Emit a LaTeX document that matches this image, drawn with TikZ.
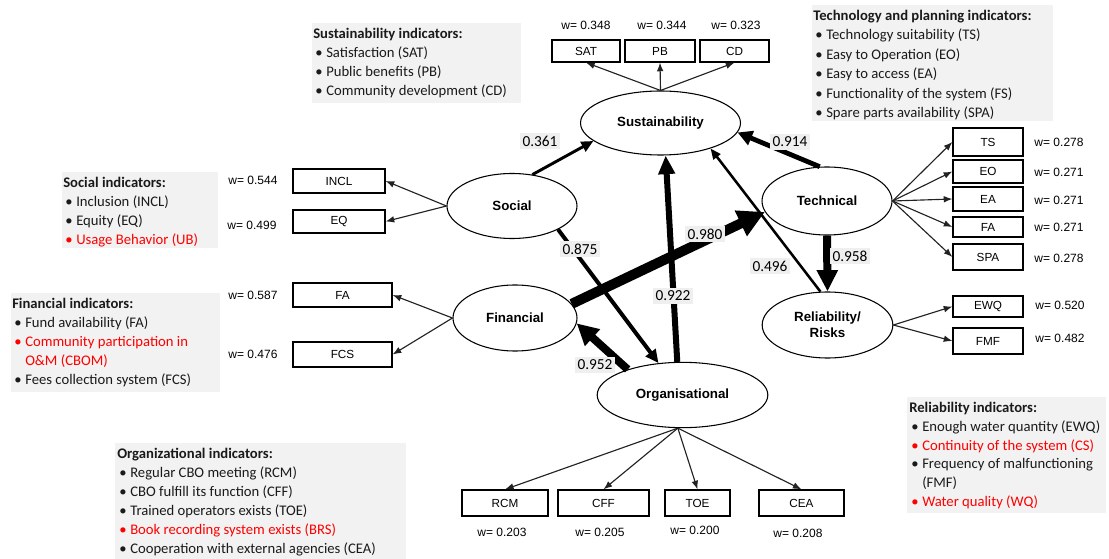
\documentclass[tikz,border=0pt]{standalone}
\usepackage{fontspec}
\setmainfont{Carlito}
\newfontfamily\arialf{Liberation Sans}
\usetikzlibrary{shapes.geometric,arrows.meta}
\definecolor{infogray}{HTML}{F2F2F2}
\definecolor{labgray}{HTML}{EFEFEF}
\definecolor{txtred}{HTML}{FF0000}
\definecolor{linegray}{HTML}{222222}
\definecolor{txtdark}{HTML}{1A1A1A}
\newcommand\bul{\makebox[9.75pt][l]{\hspace{1.5pt}\textbullet}}
\newcommand\nobul{\hspace*{9.75pt}}
\begin{document}
\begin{tikzpicture}[x=0.75pt,y=-0.75pt,
 latent/.style={ellipse,draw=black,line width=0.8pt,inner sep=0pt,align=center,
   font=\arialf\bfseries\fontsize{10}{12}\selectfont},
 ind/.style={draw=black,line width=0.9pt,inner sep=0pt,
   font=\arialf\fontsize{8.8}{10}\selectfont},
 bw/.style={minimum width=#1*0.75pt},
 bh/.style={minimum height=#1*0.75pt},
 wlab/.style={font=\arialf\fontsize{9}{10}\selectfont,inner sep=0pt},
 coef/.style={fill=labgray,font=\fontsize{11.5}{12}\selectfont,inner sep=2pt},
 load/.style={draw=linegray,line width=0.85pt,-{Latex[length=6.5pt,width=5pt]}},
 infobg/.style={fill=infogray,draw=none,inner sep=0pt,anchor=north west},
 infotxt/.style={anchor=north west,inner sep=0pt,align=left,text=txtdark,
   font=\fontsize{11}{14.25}\selectfont},
]
\useasboundingbox (0,0) rectangle (1109,559);

% ---------- indicator description boxes ----------
\node[infobg,minimum width=209*0.75pt,minimum height=80*0.75pt] (susbg) at (312,23) {};
\node[infotxt] (sustxt) at (313,27.7) {{\bfseries Sustainability indicators:}\\
 \bul Satisfaction (SAT)\\ \bul Public benefits (PB)\\ \bul Community development (CD)};

\node[infobg,minimum width=241*0.75pt,minimum height=116*0.75pt] (techbg) at (812,5) {};
\node[infotxt,font=\fontsize{11}{14.55}\selectfont] (techtxt) at (813,10) {{\bfseries Technology and planning indicators:}\\
 \bul Technology suitability (TS)\\ \bul Easy to Operation (EO)\\ \bul Easy to access (EA)\\
 \bul Functionality of the system (FS)\\ \bul Spare parts availability (SPA)};

\node[infobg,minimum width=156*0.75pt,minimum height=76*0.75pt] (socbg) at (62,172) {};
\node[infotxt] (soctxt) at (63,177) {{\bfseries Social indicators:}\\
 \bul Inclusion (INCL)\\ \bul Equity (EQ)\\ {\color{txtred}\bul Usage Behavior (UB)}};

\node[infobg,minimum width=209*0.75pt,minimum height=99*0.75pt] (finbg) at (11,293) {};
\node[infotxt] (fintxt) at (12,298) {{\bfseries Financial indicators:}\\
 \bul Fund availability (FA)\\ {\color{txtred}\bul Community participation in}\\
 {\color{txtred}\nobul O\&M (CBOM)}\\ \bul Fees collection system (FCS)};

\node[infobg,minimum width=199*0.75pt,minimum height=116*0.75pt] (relbg) at (907,397) {};
\node[infotxt,font=\fontsize{11}{14.1}\selectfont] (reltxt) at (909,402) {{\bfseries Reliability indicators:}\\
 \bul Enough water quantity (EWQ)\\ {\color{txtred}\bul Continuity of the system (CS)}\\
 \bul Frequency of malfunctioning\\ \nobul (FMF)\\ {\color{txtred}\bul Water quality (WQ)}};

\node[infobg,minimum width=291*0.75pt,minimum height=116*0.75pt] (orgbg) at (115,443) {};
\node[infotxt] (orgtxt) at (117,448) {{\bfseries Organizational indicators:}\\
 \bul Regular CBO meeting (RCM)\\ \bul CBO fulfill its function (CFF)\\
 \bul Trained operators exists (TOE)\\ {\color{txtred}\bul Book recording system exists (BRS)}\\
 \bul Cooperation with external agencies (CEA)};

% ---------- latent constructs ----------
\node[latent,minimum width=120pt,minimum height=48pt] (sus) at (660.5,123) {Sustainability};
\node[latent,minimum width=97.5pt,minimum height=48.75pt] (soc) at (512,206) {Social};
\node[latent,minimum width=93pt,minimum height=49.5pt] (fin) at (515,318) {Financial};
\node[latent,minimum width=97.5pt,minimum height=51pt] (tech) at (827,201) {Technical};
\node[latent,minimum width=98pt,minimum height=49.5pt] (rel) at (827.5,325) {Reliability/\\Risks};
\node[latent,minimum width=128pt,minimum height=49pt] (org) at (682.5,395) {Organisational};

% ---------- indicator boxes ----------
\node[ind,bw=68,bh=22] (sat) at (586,51) {SAT};
\node[ind,bw=70,bh=22] (pb) at (660,51) {PB};
\node[ind,bw=69,bh=22] (cd) at (734.5,51) {CD};
\node[ind,bw=92,bh=24] (incl) at (339,181) {INCL};
\node[ind,bw=92,bh=23] (eq) at (339,221.5) {EQ};
\node[ind,bw=99,bh=24] (fa) at (342.5,295) {FA};
\node[ind,bw=99,bh=25] (fcs) at (342.5,354.5) {FCS};
\node[ind,bw=70,bh=28] (ts) at (988,142) {TS};
\node[ind,bw=70,bh=23] (eo) at (988,171.5) {EO};
\node[ind,bw=70,bh=24] (ea) at (988,199) {EA};
\node[ind,bw=70,bh=20] (fat) at (988,227) {FA};
\node[ind,bw=70,bh=26] (spa) at (988,257) {SPA};
\node[ind,bw=70,bh=21] (ewq) at (988,306.5) {EWQ};
\node[ind,bw=70,bh=26] (fmf) at (988,341) {FMF};
\node[ind,bw=86,bh=26] (rcm) at (505,503) {RCM};
\node[ind,bw=91,bh=26] (cff) at (603.5,503) {CFF};
\node[ind,bw=65,bh=26] (toe) at (697.5,503) {TOE};
\node[ind,bw=85,bh=26] (cea) at (801.5,503) {CEA};

% ---------- weights ----------
\node[wlab] (wsat) at (586,25) {w= 0.348};
\node[wlab] (wpb) at (662,25) {w= 0.344};
\node[wlab] (wcd) at (736,25) {w= 0.323};
\node[wlab] (wincl) at (253,180) {w= 0.544};
\node[wlab] (weq) at (252,225) {w= 0.499};
\node[wlab] (wfa) at (253,295) {w= 0.587};
\node[wlab] (wfcs) at (253,354) {w= 0.476};
\node[wlab] (wts) at (1059,142) {w= 0.278};
\node[wlab] (weo) at (1059,172) {w= 0.271};
\node[wlab] (wea) at (1059,200) {w= 0.271};
\node[wlab] (wfat) at (1059,227) {w= 0.271};
\node[wlab] (wspa) at (1059,258) {w= 0.278};
\node[wlab] (wewq) at (1060,305) {w= 0.520};
\node[wlab] (wfmf) at (1060,338) {w= 0.482};
\node[wlab] (wrcm) at (502,532) {w= 0.203};
\node[wlab] (wcff) at (600,532) {w= 0.205};
\node[wlab] (wtoe) at (695,530) {w= 0.200};
\node[wlab] (wcea) at (798,533) {w= 0.208};

% ---------- loading connectors ----------
\draw[load] (sus.north) -- (sat.south);
\draw[load] (sus.north) -- (pb.south);
\draw[load] (sus.north) -- (cd.south);
\draw[load] (soc.west) -- (incl.east);
\draw[load] (soc.west) -- (eq.east);
\draw[load] (fin.west) -- (fa.east);
\draw[load] (fin.west) -- (fcs.east);
\draw[load] (tech.east) -- (ts.west);
\draw[load] (tech.east) -- (eo.west);
\draw[load] (tech.east) -- (ea.west);
\draw[load] (tech.east) -- (fat.west);
\draw[load] (tech.east) -- (spa.west);
\draw[load] (rel.east) -- (ewq.west);
\draw[load] (rel.east) -- (fmf.west);
\draw[load] (org.262) -- (rcm.north);
\draw[load] (org.262) -- (cff.north);
\draw[load] (org.262) -- (toe.north);
\draw[load] (org.262) -- (cea.north);

% ---------- structural paths ----------
\draw[black,line width=2.2pt,-{Triangle[length=9pt,width=8pt]}] (soc.57) -- (sus.195);
\draw[black,line width=3.6pt,-{Triangle[length=11pt,width=11pt]}] (tech.102) -- (sus.-7);
\draw[black,line width=4.5pt,-{Triangle[length=14pt,width=12pt]}] (org.99) -- (sus.-81);
\draw[black,line width=1.9pt,-{Triangle[length=8pt,width=6.5pt]}] (rel.102) -- (sus.-27);
\draw[black,line width=3pt,-{Triangle[length=10pt,width=9pt]}] (soc.-27) -- (org.127);
\draw[black,line width=7.5pt,-{Triangle[length=20pt,width=20pt]}] (fin.14) -- (tech.190);
\draw[black,line width=6pt,-{Triangle[length=16pt,width=16pt]}] (org.155) -- (fin.-5);
\draw[black,line width=6pt,-{Triangle[length=16pt,width=15pt]}] (tech.south) -- (rel.north);

% ---------- path coefficients ----------
\node[coef] (c361) at (540,141) {0.361};
\node[coef] (c914) at (790,142) {0.914};
\node[coef] (c875) at (580,249) {0.875};
\node[coef] (c980) at (705,234) {0.980};
\node[coef] (c922) at (673,296) {0.922};
\node[coef] (c496) at (770,266) {0.496};
\node[coef] (c952) at (595,365) {0.952};
\node[coef] (c958) at (850,256) {0.958};
\end{tikzpicture}
\end{document}
